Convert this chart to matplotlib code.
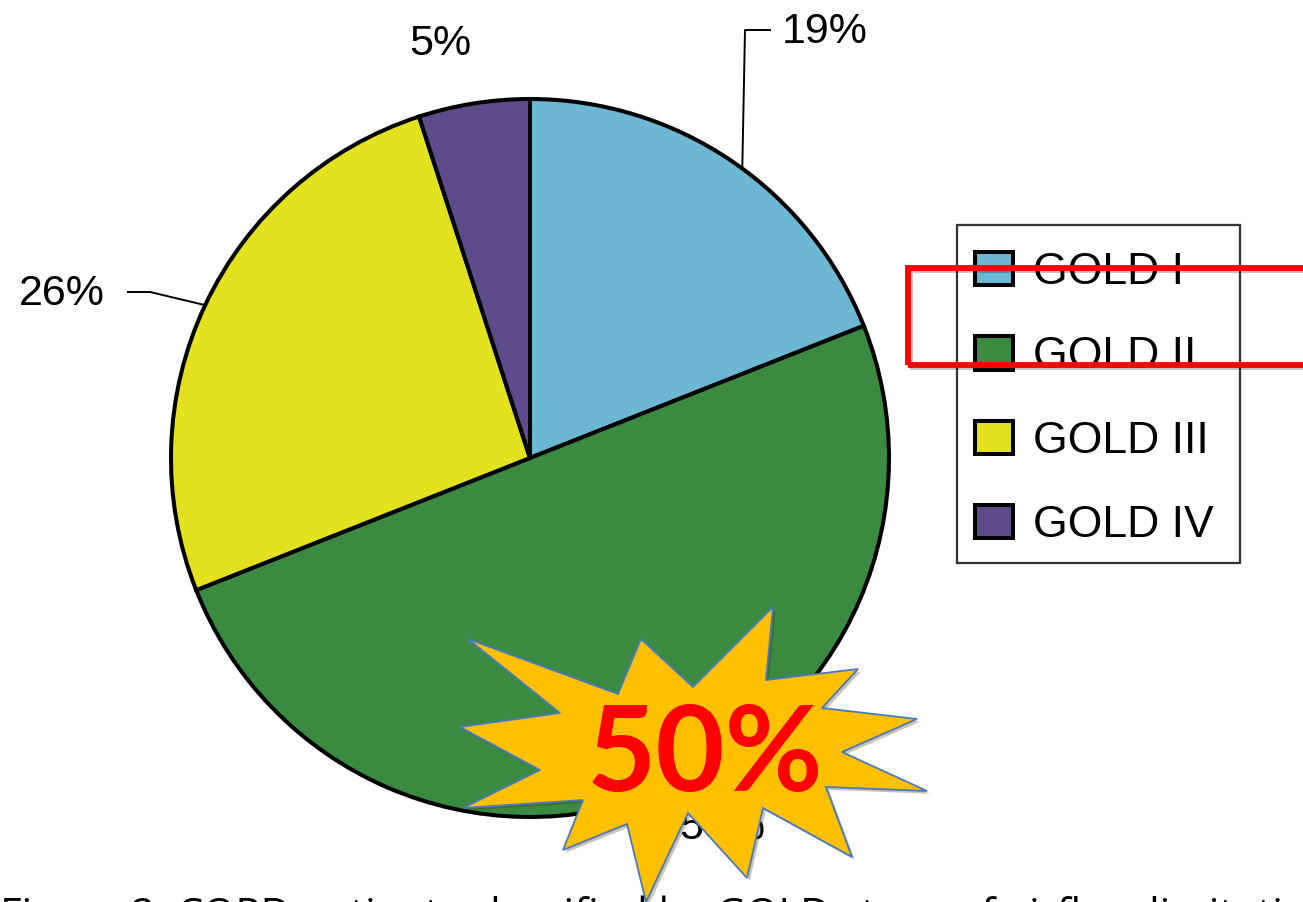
import numpy as np
import matplotlib
matplotlib.use("Agg")
import matplotlib.pyplot as plt
from matplotlib.patches import Polygon, Rectangle
import matplotlib.patheffects as pe

# GOLD stage distribution
stages = ["GOLD I", "GOLD II", "GOLD III", "GOLD IV"]
shares = [19, 50, 26, 5]
colors = ["#6CB7D2", "#3A8A41", "#E3E21F", "#5F4A8B"]
highlight = "50%"

W, H = 1303, 902
fig = plt.figure(figsize=(W / 100, H / 100), dpi=100)
ax = fig.add_axes([0, 0, 1, 1])
ax.set_aspect("equal")

cx, cy, r = 530, H - 458, 359
wedges, _ = ax.pie(shares, colors=colors, startangle=90, counterclock=False,
                   center=(cx, cy), radius=r, frame=True,
                   wedgeprops=dict(edgecolor="black", linewidth=2.9))
ax.set_xlim(0, W)
ax.set_ylim(0, H)
ax.axis("off")

lbl_font = dict(fontsize=31, family="Liberation Sans", color="black")


def edge_point(w, frac=0.5):
    a = np.deg2rad(w.theta1 + (w.theta2 - w.theta1) * frac)
    return cx + r * np.cos(a), cy + r * np.sin(a)


# 19% with elbow leader
ex, ey = edge_point(wedges[0], 0.47)
ax.plot([ex, 745, 770], [ey, H - 30, H - 30], color="black", lw=1.4, zorder=1)
ax.text(825, H - 32, f"{shares[0]}%", ha="center", va="center", **lbl_font)

# 5% without leader
ax.text(440, H - 44, f"{shares[3]}%", ha="center", va="center", **lbl_font)

# 26% with elbow leader
ex, ey = edge_point(wedges[2], 0.5)
ax.plot([ex, 150, 128], [ey, H - 292, H - 292], color="black", lw=1.4, zorder=1)
ax.text(62, H - 294, f"{shares[2]}%", ha="center", va="center", **lbl_font)

# 50% label (partly hidden under the burst)
ax.text(722, H - 828, f"{shares[1]}%", ha="center", va="center", **lbl_font)

# legend: entries without frame, box drawn separately
leg_box = Rectangle((957, H - 563), 283, 338, facecolor="white", edgecolor="#333333",
                    lw=1.6, zorder=4)
ax.add_patch(leg_box)
leg = ax.legend(wedges, stages, loc="upper left",
                bbox_to_anchor=(975 / W, 1 - 252 / H), bbox_transform=fig.transFigure,
                prop=dict(family="Liberation Sans", size=32),
                frameon=False, handlelength=0.86, handleheight=0.78,
                handletextpad=0.45, labelspacing=0.97, borderpad=0, borderaxespad=0)
leg.set_zorder(5)

# red highlight box
box = Rectangle((908, H - 365), 420, 97, fill=False, edgecolor="#FF0000", lw=4.2,
                zorder=6, clip_on=False,
                path_effects=[pe.SimpleLineShadow(offset=(1.5, -1.5), alpha=0.25), pe.Normal()])
ax.add_patch(box)

# burst shape
burst = [(468, 639), (618, 694), (641, 639), (693, 687), (773, 607), (766, 680),
         (858, 669), (822, 708), (917, 719), (842, 752), (927, 791), (826, 787),
         (852, 857), (763, 808), (747, 878), (688, 813), (646, 902), (627, 824),
         (563, 850), (583, 800), (463, 808), (540, 770), (460, 727), (560, 713)]
star = Polygon([(x, H - y) for x, y in burst], closed=True, facecolor="#FFC000",
               edgecolor="#4A78C2", lw=1.3, zorder=7,
               path_effects=[pe.SimplePatchShadow(offset=(2, -2), alpha=0.3), pe.Normal()])
ax.add_patch(star)
ax.text(705, H - 757, highlight, ha="center", va="center", fontsize=86,
        family="Lato", fontweight="bold", color="#FF0000", zorder=8)

# caption running off the bottom edge (placed in figure pixels)
ax.annotate("Figure 2. COPD patients classified by GOLD stage of airflow limitation",
            xy=(0, -26), xycoords="figure pixels", ha="left", va="baseline",
            fontsize=30, family="Open Sans", color="black", zorder=2,
            annotation_clip=False)

fig.savefig("out.png", dpi=100)
